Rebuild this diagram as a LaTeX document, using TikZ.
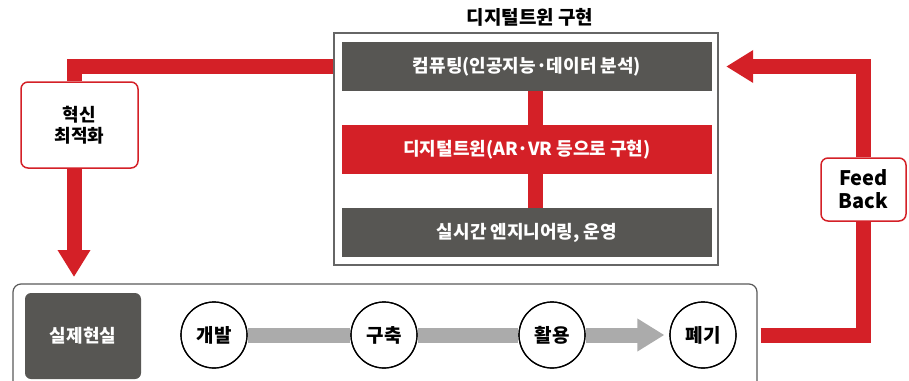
\documentclass[tikz,border=0pt]{standalone}
\usepackage{fontspec}
\setmainfont{Noto Sans CJK KR}
\usetikzlibrary{arrows.meta, positioning}
\definecolor{twinred}{HTML}{D42027}
\definecolor{twingray}{HTML}{575653}
\definecolor{flowgray}{HTML}{ABABAB}

\begin{document}
\begin{tikzpicture}[x=1pt, y=-1pt, font=\bfseries\fontsize{18}{21}\selectfont,
  bar/.style={minimum width=370pt, minimum height=49pt, inner sep=0pt, text=white},
  ring/.style={circle, draw, line width=1.2pt, fill=white, minimum size=66pt, inner sep=0pt, font=\bfseries\fontsize{19}{22}\selectfont},
  tag/.style={draw=twinred, line width=1.5pt, rounded corners=7pt, fill=white, align=center, inner sep=0pt},
  redline/.style={draw=twinred, line width=15pt},
  bigtip/.style={-{Triangle[length=27pt, width=31pt]}}]
  \clip (0,0) rectangle (909,380);
  % digital twin block
  \node[bar, fill=twingray] (comp) at (527,66.5) {컴퓨팅(인공지능·데이터 분석)};
  \node[bar, fill=twinred] (twin) at (527,149.5) {디지털트윈(AR·VR 등으로 구현)};
  \node[bar, fill=twingray] (ops) at (527,232.5) {실시간 엔지니어링, 운영};
  \draw[redline] ([xshift=8pt]comp.south) -- ([xshift=8pt]twin.north);
  \draw[redline] ([xshift=8pt]twin.south) -- ([xshift=8pt]ops.north);
  \node[draw=black!60, line width=1.5pt, minimum width=384pt, minimum height=232pt, inner sep=0pt] (twinbox) at (526,149) {};
  \node[anchor=south, inner sep=0pt, font=\bfseries\fontsize{19}{22}\selectfont] (title) at ([xshift=4pt, yshift=6pt]twinbox.north) {디지털트윈 구현};
  % real world
  \node[draw=black!65, line width=1.2pt, rounded corners=8pt, minimum width=744pt, minimum height=116pt, inner sep=0pt] (world) at (385,342) {};
  \node[fill=twingray, text=white, rounded corners=6pt, minimum width=116pt, minimum height=86pt, inner sep=0pt] (real) at (83,336) {실제현실};
  \node[ring] (gaebal) at (214,335) {개발};
  \node[ring] (guchuk) at (384,335) {구축};
  \node[ring] (hwal) at (552,335) {활용};
  \node[ring] (pyegi) at (703,335) {폐기};
  \draw[draw=flowgray, line width=15pt] (gaebal) -- (guchuk);
  \draw[draw=flowgray, line width=15pt] (guchuk) -- (hwal);
  \draw[draw=flowgray, line width=15pt, bigtip] (hwal.east) -- ([xshift=-5pt]pyegi.west);
  \foreach \n in {gaebal, guchuk, hwal, pyegi}
    \draw[line width=1.2pt] (\n) circle (33pt);
  % feedback loops
  \node[tag, minimum width=117pt, minimum height=86pt] (hyeok) at (79.5,125) {혁신\\최적화};
  \node[tag, minimum width=85pt, minimum height=63pt, font=\bfseries\fontsize{20}{23}\selectfont] (fb) at (863.5,189.5) {Feed\\Back};
  \coordinate (downtip) at (74,277);
  \draw[redline] (twinbox.west |- comp) -| ([xshift=-5.5pt]hyeok.north);
  \draw[redline, bigtip] ([xshift=-5.5pt]hyeok.south) -- (downtip);
  \draw[redline] ([xshift=3pt]world.east |- pyegi) -| (fb.south);
  \draw[redline, bigtip] (fb.north) |- ([xshift=14pt]comp.east);
\end{tikzpicture}
\end{document}
